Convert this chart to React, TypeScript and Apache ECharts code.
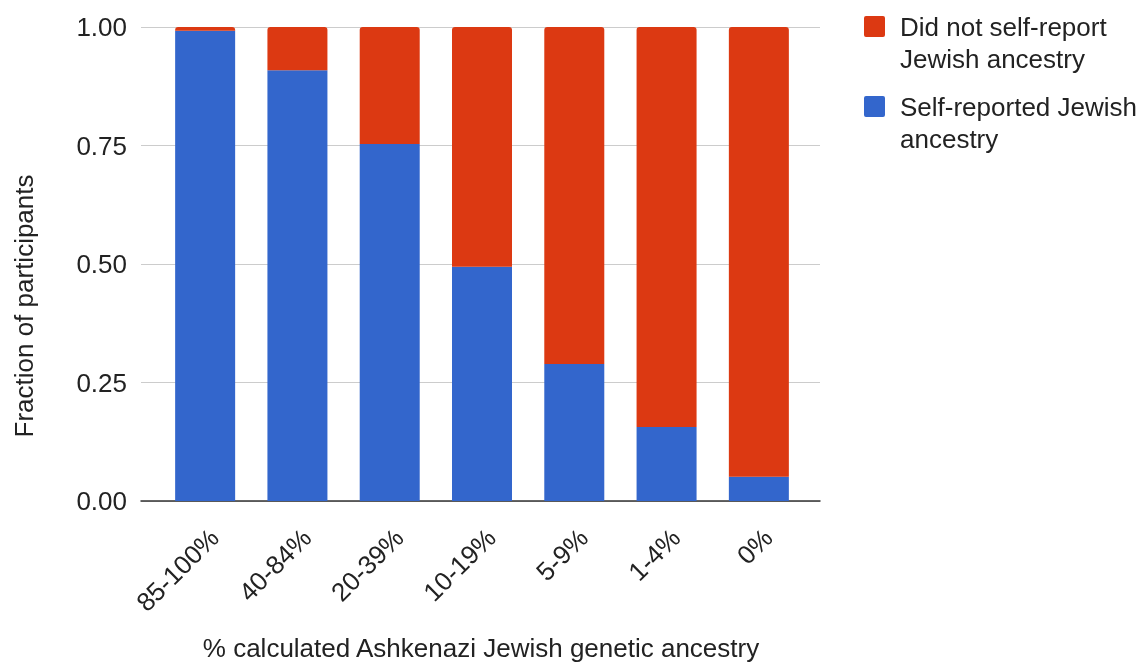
import React, { useEffect, useRef } from "react";
import * as echarts from "echarts";

const categories = ["85-100%", "40-84%", "20-39%", "10-19%", "5-9%", "1-4%", "0%"];
const selfReported = [0.992, 0.909, 0.753, 0.494, 0.289, 0.156, 0.051];
const notSelfReported = [0.008, 0.091, 0.247, 0.506, 0.711, 0.844, 0.949];
const seriesNames = ["Self-reported Jewish ancestry", "Did not self-report Jewish ancestry"];
const legendLabels: Record<string, string> = {
  "Did not self-report Jewish ancestry": "Did not self-report\nJewish ancestry",
  "Self-reported Jewish ancestry": "Self-reported Jewish\nancestry",
};
const yTicks = [0, 0.25, 0.5, 0.75, 1];
const xTitle = "% calculated Ashkenazi Jewish genetic ancestry";
const yTitle = "Fraction of participants";

const FONT = '"Liberation Sans", Arial, sans-serif';
const FS = 26;
const RED = "#DC3912";
const BLUE = "#3366CC";

export default function App() {
  const ref = useRef<HTMLDivElement>(null);
  useEffect(() => {
    if (!ref.current) return;
    const chart = echarts.init(ref.current, null, { renderer: "svg" });
    const legendIcon =
      "path://M0,0L31,0M2,5.5L19,5.5Q21,5.5 21,7.5L21,24.5Q21,26.5 19,26.5L2,26.5Q0,26.5 0,24.5L0,7.5Q0,5.5 2,5.5Z M0,64L31,64";
    chart.setOption({
      animation: false,
      textStyle: { fontFamily: FONT },
      grid: [
        { left: 141, right: 319, top: 27, bottom: 163 },
        { left: 159, right: 334, top: 27, bottom: 163 },
      ],
      xAxis: [
        {
          gridIndex: 0,
          type: "value",
          min: 0,
          max: 1,
          axisLine: { show: true, lineStyle: { color: "#333", width: 1.5 } },
          axisTick: { show: false },
          axisLabel: { show: false },
          splitLine: { show: false },
        },
        {
          gridIndex: 1,
          type: "category",
          data: categories,
          axisLine: { show: false },
          axisTick: { show: false },
          axisLabel: {
            rotate: 45,
            margin: 23,
            verticalAlign: "top",
            fontSize: FS,
            color: "#222",
            fontFamily: FONT,
            interval: 0,
          },
        },
      ],
      yAxis: [
        {
          gridIndex: 0,
          type: "value",
          min: yTicks[0],
          max: yTicks[yTicks.length - 1],
          interval: 0.25,
          axisLine: { show: false },
          axisTick: { show: false },
          axisLabel: {
            margin: 14,
            fontSize: FS,
            color: "#222",
            fontFamily: FONT,
            formatter: (v: number) => v.toFixed(2),
          },
          splitLine: { lineStyle: { color: "#cccccc", width: 1 } },
        },
        {
          gridIndex: 1,
          type: "value",
          min: 0,
          max: 1,
          show: false,
        },
      ],
      legend: {
        orient: "vertical",
        left: 864,
        top: 10.5,
        padding: 0,
        itemGap: 16,
        itemWidth: 31,
        itemHeight: 64,
        icon: legendIcon,
        data: [seriesNames[1], seriesNames[0]],
        formatter: (name: string) => legendLabels[name] || name,
        textStyle: { fontSize: FS, lineHeight: 32, color: "#222", fontFamily: FONT },
        selectedMode: false,
      },
      series: [
        {
          name: seriesNames[0],
          type: "bar",
          stack: "total",
          xAxisIndex: 1,
          yAxisIndex: 1,
          barWidth: 60,
          itemStyle: { color: BLUE },
          data: selfReported,
        },
        {
          name: seriesNames[1],
          type: "bar",
          stack: "total",
          xAxisIndex: 1,
          yAxisIndex: 1,
          barWidth: 60,
          itemStyle: { color: RED, borderRadius: [3, 3, 0, 0] },
          data: notSelfReported,
        },
      ],
      graphic: [
        {
          type: "text",
          x: 24,
          y: 306,
          rotation: Math.PI / 2,
          style: {
            text: yTitle,
            fontSize: FS,
            fontFamily: FONT,
            fill: "#222",
            align: "center",
            verticalAlign: "middle",
          },
        },
        {
          type: "text",
          x: 481,
          y: 648,
          style: {
            text: xTitle,
            fontSize: FS,
            fontFamily: FONT,
            fill: "#222",
            align: "center",
            verticalAlign: "middle",
          },
        },
      ],
    });
    return () => chart.dispose();
  }, []);
  return <div ref={ref} style={{ width: 1139, height: 664, position: "fixed", left: 0, top: 0 }} />;
}
